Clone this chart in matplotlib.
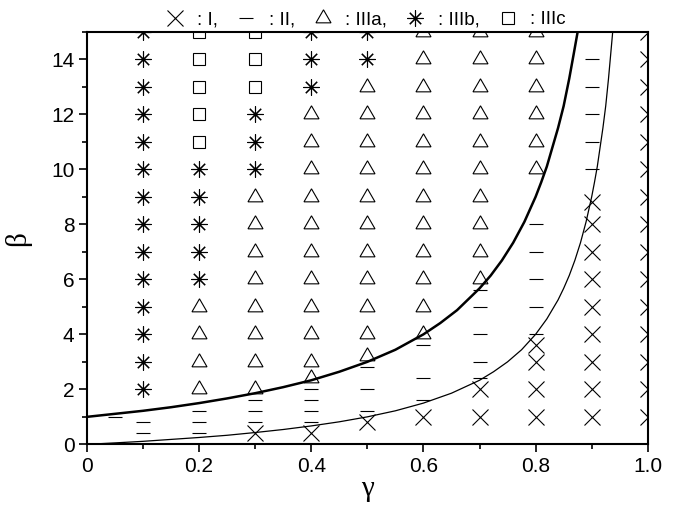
import numpy as np
import matplotlib
matplotlib.use('Agg')
import matplotlib.pyplot as plt
from matplotlib.lines import Line2D

plt.rcParams['font.family'] = ['Liberation Sans', 'DejaVu Sans']

# phase I (x)
g_I = [0.3, 0.4, 0.5, 0.6, 0.7, 0.7, 0.8, 0.8, 0.8, 0.8,
       0.9, 0.9, 0.9, 0.9, 0.9, 0.9, 0.9, 0.9, 0.9] + [1.0] * 15
b_I = [0.4, 0.4, 0.8, 1, 1, 2, 1, 2, 3, 3.6,
       1, 2, 3, 4, 5, 6, 7, 8, 8.8] + list(range(1, 16))

# phase II (-)
g_II = [0.05, 0.1, 0.1, 0.2, 0.2, 0.2, 0.3, 0.3, 0.3, 0.4, 0.4, 0.4, 0.4,
        0.5, 0.5, 0.5, 0.6, 0.6, 0.6, 0.7, 0.7, 0.7, 0.7, 0.7,
        0.8, 0.8, 0.8, 0.8, 0.8, 0.9, 0.9, 0.9, 0.9, 0.9]
b_II = [1.0, 0.4, 0.8, 0.4, 0.8, 1.2, 0.8, 1.2, 1.6, 0.8, 1.2, 1.6, 2.0,
        1.2, 2.0, 2.8, 1.6, 2.4, 3.6, 2.4, 3, 4, 5, 5.6,
        4, 5, 6, 7, 8, 10, 11, 12, 13, 14]

# phase IIIa (triangle)
g_IIIa = ([0.2] * 4 + [0.3] * 8 + [0.4] * 11 + [0.5] * 11 + [0.6] * 12
          + [0.7] * 10 + [0.8] * 6)
b_IIIa = ([2, 3, 4, 5] + list(range(2, 10)) + [2.4] + list(range(3, 13))
          + [3.2] + list(range(4, 14)) + list(range(4, 16))
          + list(range(6, 16)) + list(range(10, 16)))

# phase IIIb (asterisk)
g_IIIb = [0.1] * 14 + [0.2] * 5 + [0.3] * 3 + [0.4] * 3 + [0.5] * 2
b_IIIb = list(range(2, 16)) + [6, 7, 8, 9, 10] + [10, 11, 12] + [13, 14, 15] + [14, 15]

# phase IIIc (square)
g_IIIc = [0.2] * 5 + [0.3] * 3
b_IIIc = [11, 12, 13, 14, 15, 13, 14, 15]

# boundary curves
g_upper = [0, 0.05, 0.1, 0.15, 0.2, 0.25, 0.3, 0.35, 0.4, 0.45, 0.5, 0.55,
           0.6, 0.63, 0.66, 0.7, 0.72, 0.74, 0.76, 0.78, 0.8, 0.81, 0.82,
           0.83, 0.84, 0.85, 0.86, 0.868, 0.875]
b_upper = [1.00, 1.11, 1.22, 1.35, 1.50, 1.67, 1.86, 2.08, 2.33, 2.64, 3.00, 3.44,
           4.00, 4.41, 4.88, 5.67, 6.14, 6.69, 7.33, 8.09, 9.00, 9.53, 10.1,
           10.8, 11.5, 12.3, 13.3, 14.2, 15.0]
g_lower = [0, 0.05, 0.1, 0.15, 0.2, 0.25, 0.3, 0.35, 0.4, 0.45, 0.5, 0.55, 0.6,
           0.65, 0.7, 0.725, 0.75, 0.775, 0.8, 0.82, 0.84, 0.85, 0.86, 0.87, 0.88,
           0.89, 0.9, 0.905, 0.91, 0.915, 0.92, 0.925, 0.93, 0.9375]
b_lower = [0, 0.053, 0.11, 0.18, 0.25, 0.33, 0.43, 0.54, 0.67, 0.82, 1.00, 1.22, 1.50,
           1.86, 2.33, 2.64, 3.00, 3.44, 4.00, 4.56, 5.25, 5.67, 6.14, 6.69, 7.33,
           8.09, 9.00, 9.53, 10.1, 10.8, 11.5, 12.3, 13.3, 15.0]

tri = (3, 0, 0)
star = (8, 2, 0)
mk = dict(linestyle='none', color='black', markerfacecolor='none', markeredgewidth=0.8)

fig = plt.figure(figsize=(6.79, 5.09), dpi=100)
ax = fig.add_axes([0.128, 0.127, 0.826, 0.8105])

ax.plot(g_upper, b_upper, color='black', lw=1.8)
ax.plot(g_lower, b_lower, color='black', lw=0.9)

ax.plot(g_I, b_I, marker='x', markersize=11.5, **mk)
ax.plot(g_II, b_II, marker='_', markersize=9.5, **mk)
ax.plot(g_IIIa, b_IIIa, marker=tri, markersize=12.5, **mk)
ax.plot(g_IIIb, b_IIIb, marker=star, markersize=11.5, **mk)
ax.plot(g_IIIc, b_IIIc, marker='s', markersize=8.5, **mk)

ax.set_xlim(0, 1.0)
ax.set_ylim(0, 15)
ax.set_xticks(np.arange(0, 1.01, 0.2))
ax.set_xticklabels(['0', '0.2', '0.4', '0.6', '0.8', '1.0'])
ax.set_xticks(np.arange(0, 1.01, 0.1), minor=True)
ax.set_yticks(np.arange(0, 15, 2))
ax.set_yticks(np.arange(0, 16, 1), minor=True)
ax.tick_params(which='major', direction='out', length=6, width=1.2, labelsize=15, pad=3)
ax.tick_params(which='minor', direction='out', length=3.5, width=1.2)
for s in ax.spines.values():
    s.set_linewidth(1.5)

ax.set_xlabel('γ', fontsize=21, family=['Liberation Serif', 'DejaVu Serif'], labelpad=0)
ax.set_ylabel('β', fontsize=21, family=['Liberation Serif', 'DejaVu Serif'], labelpad=14)

handles = [Line2D([], [], marker='x', markersize=11.5, **mk),
           Line2D([], [], marker='_', markersize=9.5, **mk),
           Line2D([], [], marker=tri, markersize=12.5, **mk),
           Line2D([], [], marker=star, markersize=11.5, **mk),
           Line2D([], [], marker='s', markersize=8.5, **mk)]
labels = [': I,', ': II,', ': IIIa,', ': IIIb,', ': IIIc']
ax.legend(handles, labels, ncol=5, loc='lower center', bbox_to_anchor=(0.495, 0.99),
          frameon=False, fontsize=13.5, handlelength=1.2, handletextpad=0.6,
          columnspacing=0.9, borderaxespad=0)

fig.savefig('out.png', dpi=100)
